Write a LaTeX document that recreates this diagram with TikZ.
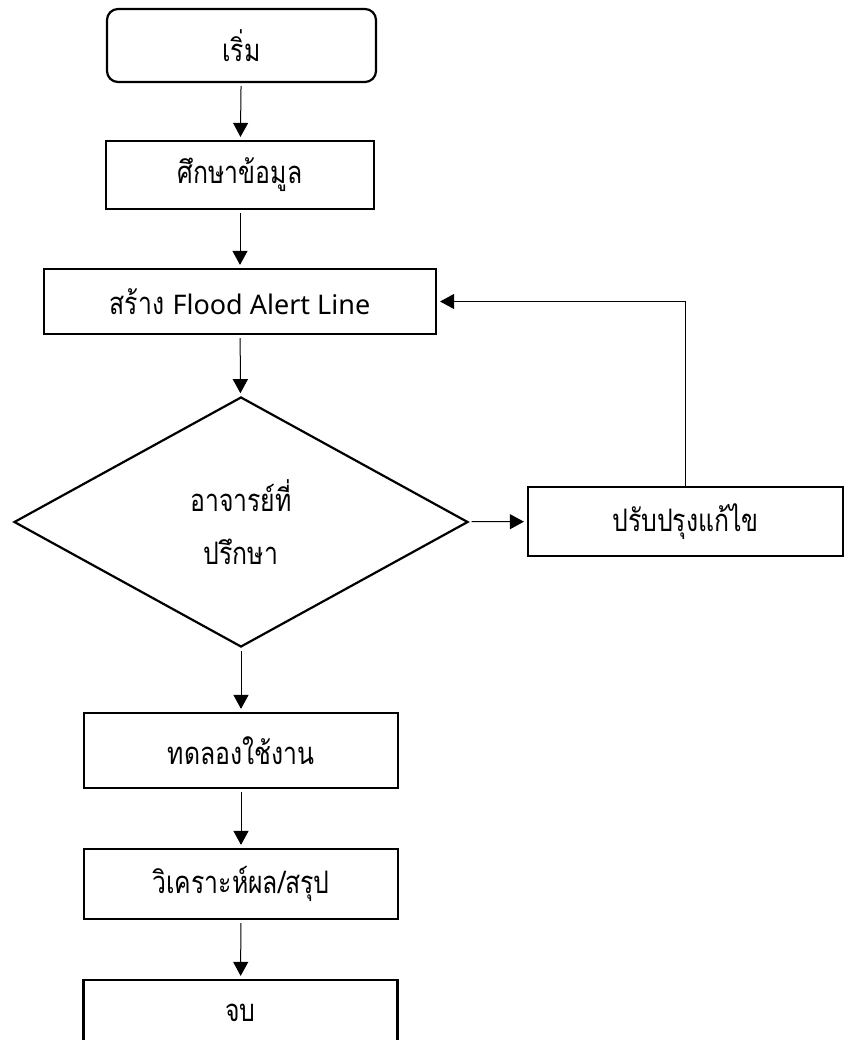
\documentclass[tikz,border=0pt]{standalone}
\usepackage{fontspec}
\setmainfont[Script=Thai,FakeStretch=0.8]{Loma}
\newfontfamily\latfont{Noto Sans}
\usetikzlibrary{shapes.geometric,arrows.meta}
\tikzset{
  every node/.style={font=\fontsize{31}{53}\selectfont},
  boxst/.style={draw,line width=2.2pt,inner sep=0pt,align=center},
  conn/.style={line width=1pt,-{Triangle[length=14pt,width=15pt]},shorten >=3pt,shorten <=3pt},
}
\begin{document}
\begin{tikzpicture}[x=1pt,y=1pt]
\useasboundingbox (0,0) rectangle (845,-1040);
\node[boxst,rounded corners=11pt,minimum width=269pt,minimum height=73pt] (start) at (241.5,-45.5) {เริ่ม};
\node[boxst,minimum width=268pt,minimum height=68pt] (study) at (240,-175) {ศึกษาข้อมูล};
\node[boxst,minimum width=392pt,minimum height=65pt] (build) at (240,-301.5) {สร้าง {\latfont\fontsize{27}{30}\selectfont Flood Alert Line}};
\node[boxst,diamond,minimum width=454pt,minimum height=250pt] (dec) at (241,-522) {อาจารย์ที่\\ปรึกษา};
\node[boxst,minimum width=315pt,minimum height=69pt] (fix) at (685.5,-521.5) {ปรับปรุงแก้ไข};
\node[boxst,minimum width=314pt,minimum height=75pt] (test) at (241,-750.5) {ทดลองใช้งาน};
\node[boxst,minimum width=314pt,minimum height=70pt] (anal) at (241,-884) {วิเคราะห์ผล/สรุป};
\node[boxst,minimum width=314pt,minimum height=66pt] (fin) at (240.5,-1013) {จบ};
\draw[conn] (start) -- (study);
\draw[conn] (study) -- (build);
\draw[conn] (build) -- (dec);
\draw[conn] (dec) -- (fix);
\draw[conn] (dec) -- (test);
\draw[conn] (test) -- (anal);
\draw[conn] (anal) -- (fin);
\draw[conn,shorten <=0pt] (fix.north) |- (build.east);
\end{tikzpicture}
\end{document}
